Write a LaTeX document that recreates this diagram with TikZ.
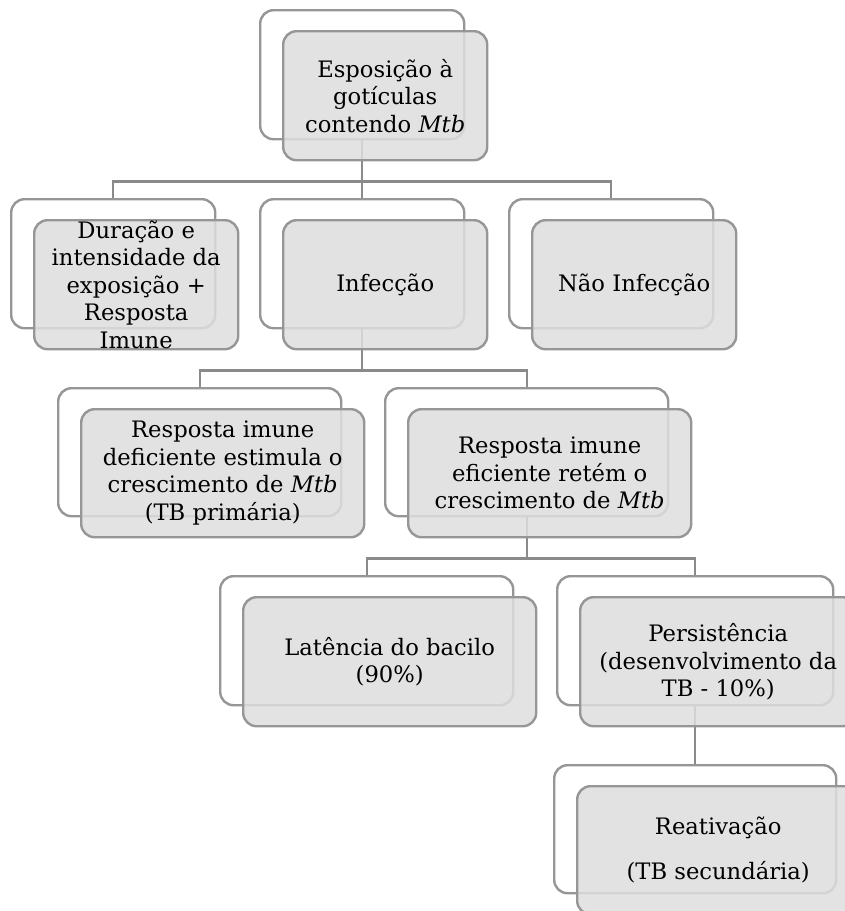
\documentclass[tikz,border=0pt]{standalone}
\usepackage{fontspec}
\setmainfont{DejaVu Serif}
\usetikzlibrary{positioning}
\definecolor{boxline}{RGB}{150,150,150}
\definecolor{boxfill}{RGB}{222,222,222}
\definecolor{linkgray}{RGB}{138,138,138}
\begin{document}
\begin{tikzpicture}[x=0.75pt,y=-0.75pt,node distance=15.75pt and 17.25pt,
	sz/.style 2 args={minimum width=#1*0.75pt,minimum height=#2*0.75pt},
	backbox/.style={draw=boxline,fill=white,line width=1.8pt,rounded corners=10pt,anchor=north west,inner sep=0pt},
	frontbox/.style={draw=boxline,fill=boxfill,fill opacity=0.85,text opacity=1,line width=1.8pt,rounded corners=10pt,
		align=center,inner sep=2pt,font=\fontsize{17}{20.6}\selectfont},
	link/.style={draw=linkgray,line width=1.8pt}]

\useasboundingbox (0,0) rectangle (845,911);

\node[backbox,sz={204}{129}] (b1) at (259,9)   {};
\node[backbox,sz={204}{129}] (b2) at (10,198)  {};
\node[backbox,sz={204}{129}] (b3) at (259,198) {};
\node[backbox,sz={204}{129}] (b4) at (508,198) {};
\node[backbox,sz={283}{128}] (b5) at (57,387)  {};
\node[backbox,sz={283}{128}] (b6) at (384,387) {};
\node[backbox,sz={293}{129}] (b7) at (219,575) {};
\node[backbox,sz={276}{129}] (b8) at (556,575) {};
\node[backbox,sz={282}{128}] (b9) at (553,764) {};

\path[link] (b1.south) -- ++(0,41) coordinate (j1)
	(j1) -| (b2.north)
	(j1) -- (b3.north)
	(j1) -| (b4.north)
	(b3.south) -- ++(0,41) coordinate (j2)
	(j2) -| (b5.north)
	(j2) -| (b6.north)
	(b6.south) -- ++(0,41) coordinate (j3)
	(j3) -| (b7.north)
	(j3) -| (b8.north)
	(b8.south) -- (b9.north);

\node[frontbox,sz={204}{129},below right=of b1.north west] (n1) {Esposição à\\gotículas\\contendo \textit{Mtb}};
\node[frontbox,sz={204}{129},below right=of b2.north west,inner ysep=-3pt] (n2) {Duração e\\intensidade da\\exposição +\\Resposta\\Imune};
\node[frontbox,sz={204}{129},below right=of b3.north west] (n3) {Infecção};
\node[frontbox,sz={204}{129},below right=of b4.north west] (n4) {Não Infecção};
\node[frontbox,sz={283}{128},below right=of b5.north west] (n5) {Resposta imune\\deficiente estimula o\\crescimento de \textit{Mtb}\\(TB primária)};
\node[frontbox,sz={283}{128},below right=of b6.north west] (n6) {Resposta imune\\eficiente retém o\\crescimento de \textit{Mtb}};
\node[frontbox,sz={293}{129},below right=of b7.north west] (n7) {Latência do bacilo\\(90\%)};
\node[frontbox,sz={276}{129},below right=of b8.north west] (n8) {Persistência\\(desenvolvimento da\\TB - 10\%)};
\node[frontbox,sz={282}{128},below right=of b9.north west] (n9) {\\[-8pt]Reativação\\[13pt](TB secundária)};

\end{tikzpicture}
\end{document}
